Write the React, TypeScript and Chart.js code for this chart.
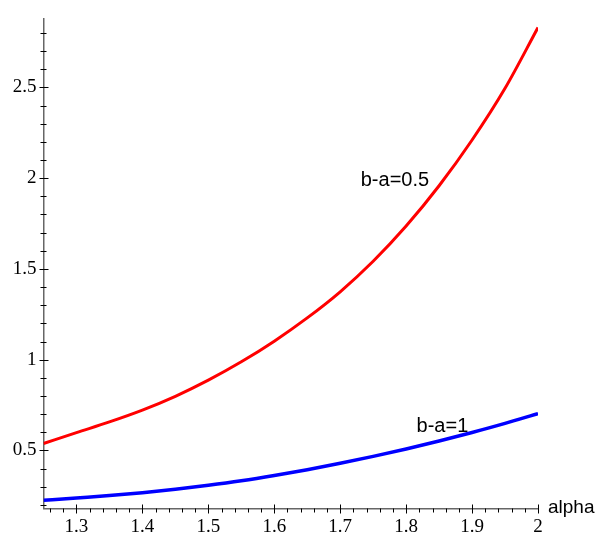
import React, { useEffect, useRef } from "react";
import { Chart, registerables } from "chart.js";

Chart.register(...registerables);

// ---- data ----
const alphaValues = [1.25, 1.3, 1.35, 1.4, 1.45, 1.5, 1.55, 1.6, 1.65, 1.7, 1.75, 1.8, 1.85, 1.9, 1.95, 2.0];
const halfGapValues = [0.538, 0.598, 0.657, 0.722, 0.798, 0.887, 0.988, 1.102, 1.23, 1.374, 1.542, 1.736, 1.958, 2.21, 2.495, 2.83];
const unitGapValues = [0.225, 0.238, 0.251, 0.267, 0.286, 0.308, 0.333, 0.362, 0.394, 0.429, 0.467, 0.508, 0.552, 0.599, 0.649, 0.703];
const xTickValues = [1.3, 1.4, 1.5, 1.6, 1.7, 1.8, 1.9, 2];
const yTickValues = [0.5, 1, 1.5, 2, 2.5];
const curveLabels = [
  { text: "b-a=0.5", x: 1.783, y: 1.956 },
  { text: "b-a=1", x: 1.855, y: 0.599 },
];
const xAxisTitle = "alpha";
const xRange = [1.25, 2.0];
const yRange = [0.18, 2.88];
const xMinorStep = 0.02;
const yMinorStep = 0.1;

const fmt = (v: any) => String(Number(Number(v).toFixed(2)));

const axisDecor = {
  id: "axisDecor",
  afterDraw(chart: any) {
    const ctx = chart.ctx;
    const xs = chart.scales.x;
    const ys = chart.scales.y;
    const ax = ys.right;
    const ay = xs.top;
    ctx.save();
    ctx.strokeStyle = "#000";
    ctx.lineWidth = 1;
    // y ticks
    const ny = Math.round((yRange[1] - yRange[0]) / yMinorStep) + 2;
    for (let i = 0; i < ny; i++) {
      const v = Math.ceil(yRange[0] / yMinorStep) * yMinorStep + i * yMinorStep;
      if (v > yRange[1]) break;
      const p = Math.round(ys.getPixelForValue(v)) + 0.5;
      const major = Math.abs(v * 2 - Math.round(v * 2)) < 1e-6;
      ctx.beginPath();
      ctx.moveTo(ax - (major ? 4 : 3), p);
      ctx.lineTo(ax + (major ? 5 : 3), p);
      ctx.stroke();
    }
    // x ticks
    const nx = Math.round((xRange[1] - xRange[0]) / xMinorStep) + 2;
    for (let i = 0; i < nx; i++) {
      const v = Math.ceil(xRange[0] / xMinorStep - 1e-9) * xMinorStep + i * xMinorStep;
      if (v > xRange[1] + 1e-9) break;
      const p = Math.round(xs.getPixelForValue(v)) + 0.5;
      const major = Math.abs(v * 10 - Math.round(v * 10)) < 1e-6;
      ctx.beginPath();
      ctx.moveTo(p, ay - (major ? 4 : 0));
      ctx.lineTo(p, ay + (major ? 5 : 4));
      ctx.stroke();
    }
    // curve labels
    ctx.fillStyle = "#000";
    ctx.font = '20px "Liberation Sans", Arial, sans-serif';
    ctx.textAlign = "center";
    ctx.textBaseline = "alphabetic";
    for (const l of curveLabels) {
      ctx.fillText(l.text, xs.getPixelForValue(l.x), ys.getPixelForValue(l.y));
    }
    // x axis title
    ctx.font = '19px "Liberation Sans", Arial, sans-serif';
    ctx.textAlign = "left";
    ctx.fillText(xAxisTitle, xs.right + 10, ay + 4.5);
    ctx.restore();
  },
};

export default function App() {
  const ref = useRef<HTMLCanvasElement>(null);
  useEffect(() => {
    if (!ref.current) return;
    const chart = new Chart(ref.current, {
      type: "line",
      data: {
        datasets: [
          {
            label: "b-a=0.5",
            data: alphaValues.map((a, i) => ({ x: a, y: halfGapValues[i] })),
            borderColor: "#ff0000",
            borderWidth: 3,
            pointRadius: 0,
            cubicInterpolationMode: "monotone",
          },
          {
            label: "b-a=1",
            data: alphaValues.map((a, i) => ({ x: a, y: unitGapValues[i] })),
            borderColor: "#0000ff",
            borderWidth: 3.5,
            pointRadius: 0,
            cubicInterpolationMode: "monotone",
          },
        ],
      },
      options: {
        responsive: false,
        animation: false,
        layout: { padding: { left: 0, top: 17, right: 57, bottom: 0 } },
        plugins: { legend: { display: false }, tooltip: { enabled: false } },
        scales: {
          x: {
            type: "linear",
            min: xRange[0],
            max: xRange[1],
            afterFit: (s: any) => {
              s.height = 25.5;
            },
            afterBuildTicks: (s: any) => {
              s.ticks = xTickValues.map((v) => ({ value: v }));
            },
            grid: { display: true, drawOnChartArea: false, drawTicks: false, color: "rgba(0,0,0,0)" },
            border: { display: true, color: "#666", width: 1.5 },
            ticks: {
              padding: 7,
              color: "#000",
              maxRotation: 0,
              autoSkip: false,
              callback: fmt,
              font: { family: '"Liberation Serif", "Times New Roman", serif', size: 19 },
            },
          },
          y: {
            type: "linear",
            min: yRange[0],
            max: yRange[1],
            afterFit: (s: any) => {
              s.width = 43.5;
            },
            afterBuildTicks: (s: any) => {
              s.ticks = yTickValues.map((v) => ({ value: v }));
            },
            grid: { display: true, drawOnChartArea: false, drawTicks: false, color: "rgba(0,0,0,0)" },
            border: { display: true, color: "#666", width: 1.5 },
            ticks: {
              padding: 7,
              color: "#000",
              autoSkip: false,
              callback: fmt,
              font: { family: '"Liberation Serif", "Times New Roman", serif', size: 19 },
            },
          },
        },
      },
      plugins: [axisDecor],
    } as any);
    return () => chart.destroy();
  }, []);
  return (
    <div style={{ position: "absolute", left: 0, top: 0, width: 595, height: 534, background: "#fff" }}>
      <canvas ref={ref} width={595} height={534} />
    </div>
  );
}
